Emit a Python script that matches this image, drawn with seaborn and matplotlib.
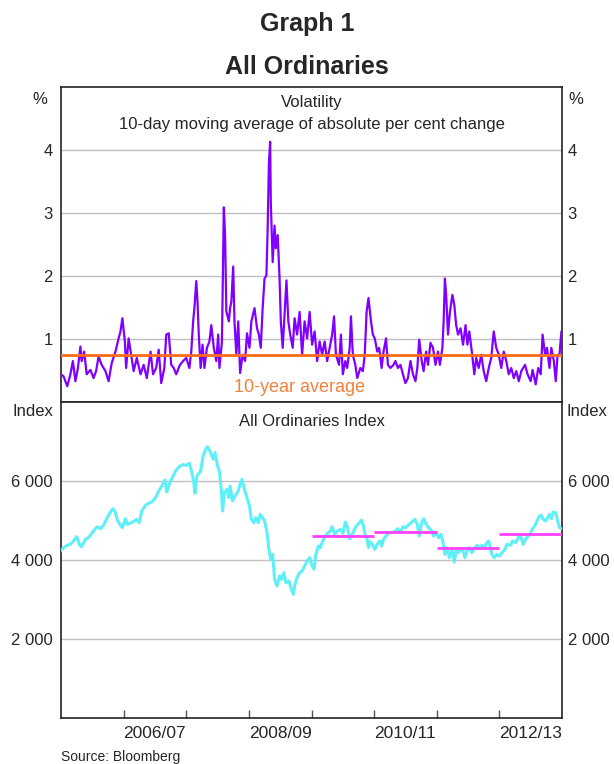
# Graph 1 - All Ordinaries: volatility and index level
import numpy as np
import pandas as pd
import matplotlib
matplotlib.use("Agg")
import matplotlib.pyplot as plt
from matplotlib.ticker import FuncFormatter
import seaborn as sns

# ======================================================
# DATA (x in decimal years)
# ======================================================

vol_t = [2005.49, 2005.54, 2005.60, 2005.65, 2005.69, 2005.73, 2005.77, 2005.81, 2005.83, 2005.87,
         2005.91, 2005.97, 2006.02, 2006.06, 2006.10, 2006.15, 2006.21, 2006.26, 2006.31, 2006.37,
         2006.42, 2006.45, 2006.48, 2006.52, 2006.54, 2006.58, 2006.62, 2006.66, 2006.71, 2006.77,
         2006.82, 2006.87, 2006.93, 2006.97, 2007.02, 2007.06, 2007.10, 2007.15, 2007.18, 2007.22,
         2007.26, 2007.30, 2007.34, 2007.40, 2007.45, 2007.50, 2007.55, 2007.58, 2007.61, 2007.63,
         2007.66, 2007.68, 2007.70, 2007.73, 2007.76, 2007.79, 2007.83, 2007.87, 2007.90, 2007.94,
         2007.98, 2008.01, 2008.03, 2008.07, 2008.10, 2008.12, 2008.14, 2008.18, 2008.20,
         2008.22, 2008.25, 2008.27, 2008.30, 2008.33, 2008.36, 2008.40, 2008.44, 2008.47, 2008.51,
         2008.54, 2008.59, 2008.63, 2008.66, 2008.69, 2008.72, 2008.75, 2008.78, 2008.80, 2008.82,
         2008.84, 2008.85, 2008.88, 2008.91, 2008.93, 2008.96, 2008.99, 2009.01, 2009.04, 2009.07,
         2009.10, 2009.13, 2009.16, 2009.20, 2009.23, 2009.27, 2009.31, 2009.35, 2009.39, 2009.43,
         2009.47, 2009.51, 2009.55, 2009.59, 2009.63, 2009.67, 2009.71, 2009.75, 2009.79, 2009.83,
         2009.86, 2009.89, 2009.94, 2009.97, 2010.00, 2010.04, 2010.07, 2010.11, 2010.13, 2010.16,
         2010.20, 2010.23, 2010.28, 2010.32, 2010.35, 2010.38, 2010.41, 2010.45, 2010.48, 2010.51,
         2010.55, 2010.58, 2010.62, 2010.65, 2010.69, 2010.72, 2010.76, 2010.81,
         2010.84, 2010.88, 2010.92, 2010.96, 2011.00, 2011.04, 2011.08, 2011.12, 2011.16, 2011.19,
         2011.22, 2011.26, 2011.29, 2011.33, 2011.36, 2011.40, 2011.44, 2011.48, 2011.52, 2011.55,
         2011.59, 2011.61, 2011.63, 2011.65, 2011.68, 2011.71, 2011.75, 2011.78, 2011.81, 2011.84,
         2011.88, 2011.92, 2011.96, 2011.99, 2012.02, 2012.06, 2012.10, 2012.13, 2012.17, 2012.21,
         2012.25, 2012.29, 2012.33, 2012.37, 2012.41, 2012.45, 2012.49, 2012.53, 2012.57, 2012.61,
         2012.65, 2012.69, 2012.73, 2012.77, 2012.81, 2012.85, 2012.91, 2012.95, 2013.00, 2013.03,
         2013.08, 2013.12, 2013.16, 2013.19, 2013.23, 2013.26, 2013.30, 2013.33, 2013.37, 2013.40,
         2013.43, 2013.46, 2013.49]

vol_pct = [0.44, 0.41, 0.25, 0.44, 0.65, 0.33, 0.54, 0.88, 0.65, 0.80,
           0.44, 0.51, 0.38, 0.49, 0.72, 0.59, 0.49, 0.33, 0.62, 0.80,
           1.01, 1.12, 1.33, 0.96, 0.54, 1.01, 0.75, 0.49, 0.70, 0.44,
           0.59, 0.38, 0.80, 0.44, 0.54, 0.83, 0.30, 0.54, 1.07, 1.09,
           0.59, 0.54, 0.44, 0.59, 0.65, 0.70, 0.54, 0.80, 1.28, 1.49,
           1.92, 1.59, 1.07, 0.54, 0.91, 0.54, 0.86, 0.96, 1.22, 0.86,
           0.65, 1.07, 0.54, 0.96, 3.09, 2.65, 1.44, 1.28, 1.49,
           1.59, 2.15, 1.28, 0.75, 1.28, 0.46, 0.75, 0.65, 1.09, 0.86,
           1.28, 1.49, 1.17, 1.07, 0.86, 1.49, 1.96, 2.01, 2.75, 3.80,
           4.13, 3.17, 2.22, 2.80, 2.44, 2.65, 1.96, 1.28, 0.86, 1.38,
           1.93, 1.28, 1.07, 0.86, 1.33, 1.07, 1.43, 0.75, 1.28, 1.01,
           1.43, 0.91, 1.12, 0.65, 0.96, 0.75, 0.96, 0.65, 0.86, 1.07,
           1.36, 0.75, 0.59, 1.07, 0.44, 0.65, 0.54, 0.86, 1.36, 0.75,
           0.59, 0.38, 0.54, 0.49, 0.75, 1.43, 1.65, 1.28, 1.07, 1.01,
           0.80, 0.86, 0.54, 0.80, 1.01, 0.59, 0.54, 0.59,
           0.65, 0.54, 0.59, 0.44, 0.30, 0.38, 0.65, 0.44, 0.33, 0.54,
           0.99, 0.65, 0.49, 0.80, 0.59, 0.94, 0.86, 0.59, 0.80, 0.59,
           0.86, 1.28, 1.96, 1.70, 1.07, 1.43, 1.70, 1.54, 1.22, 1.07,
           1.17, 0.91, 1.22, 0.91, 1.12, 0.80, 0.44, 0.70, 0.54, 0.75,
           0.49, 0.33, 0.54, 0.70, 1.12, 0.86, 0.75, 0.54, 0.80, 0.65,
           0.44, 0.54, 0.38, 0.49, 0.33, 0.49, 0.59, 0.44, 0.33, 0.51,
           0.28, 0.54, 0.44, 1.07, 0.75, 0.86, 0.54, 0.86, 0.65, 0.33,
           0.75, 0.75, 1.12]

vol_avg = 0.75  # 10-year average

idx_t = [2005.49, 2005.54, 2005.60, 2005.65, 2005.70, 2005.75, 2005.80, 2005.83, 2005.89, 2005.94,
         2005.99, 2006.05, 2006.08, 2006.13, 2006.18, 2006.23, 2006.29, 2006.33, 2006.37, 2006.40,
         2006.45, 2006.48, 2006.53, 2006.56, 2006.62, 2006.67, 2006.71, 2006.75, 2006.79, 2006.85,
         2006.90, 2006.95, 2007.01, 2007.06, 2007.11, 2007.16, 2007.19, 2007.24, 2007.29, 2007.34,
         2007.40, 2007.45, 2007.50, 2007.55, 2007.59, 2007.62, 2007.64, 2007.67, 2007.73, 2007.77,
         2007.81, 2007.84, 2007.89, 2007.93, 2007.96, 2008.00, 2008.03, 2008.06, 2008.08, 2008.11,
         2008.15, 2008.18, 2008.20,
         2008.24, 2008.28, 2008.33, 2008.36, 2008.39, 2008.43, 2008.47, 2008.51, 2008.54, 2008.58,
         2008.61, 2008.65, 2008.68, 2008.72, 2008.75, 2008.79, 2008.82, 2008.85, 2008.88, 2008.91,
         2008.95, 2008.99, 2009.02, 2009.06, 2009.09, 2009.14, 2009.17, 2009.21, 2009.23, 2009.27,
         2009.31, 2009.35, 2009.39, 2009.43, 2009.47, 2009.50, 2009.54, 2009.57, 2009.61, 2009.64,
         2009.68, 2009.72, 2009.77, 2009.80, 2009.83, 2009.87, 2009.91, 2009.96, 2010.00, 2010.04,
         2010.07, 2010.11, 2010.15, 2010.19, 2010.24, 2010.30, 2010.33, 2010.36, 2010.39, 2010.41,
         2010.44, 2010.48, 2010.51, 2010.55, 2010.59, 2010.62, 2010.65, 2010.71, 2010.76, 2010.81,
         2010.84, 2010.88, 2010.92, 2010.96, 2011.00, 2011.04, 2011.08, 2011.12, 2011.15, 2011.19,
         2011.22, 2011.26, 2011.29, 2011.33, 2011.37, 2011.41, 2011.45, 2011.49, 2011.53, 2011.57,
         2011.60, 2011.63, 2011.67, 2011.70, 2011.75, 2011.78, 2011.81, 2011.85, 2011.88, 2011.92,
         2011.95, 2011.99, 2012.02, 2012.06, 2012.11, 2012.14, 2012.18, 2012.22, 2012.27, 2012.30,
         2012.33, 2012.36, 2012.38, 2012.42, 2012.46, 2012.50, 2012.54, 2012.59, 2012.62, 2012.68,
         2012.71, 2012.76, 2012.80, 2012.84, 2012.88, 2012.92, 2012.96, 2013.00, 2013.03, 2013.07,
         2013.10, 2013.14, 2013.17, 2013.20, 2013.24, 2013.27, 2013.30, 2013.33, 2013.36, 2013.40,
         2013.43, 2013.46, 2013.49]

idx_level = [4228, 4312, 4371, 4397, 4481, 4591, 4371, 4338, 4523, 4565,
             4675, 4793, 4844, 4793, 4878, 5047, 5215, 5300, 5198, 5013,
             4878, 4819, 5047, 4903, 4945, 4987, 5030, 4945, 5241, 5384,
             5435, 5469, 5578, 5747, 5874, 6025, 5722, 5958, 6127, 6279,
             6380, 6414, 6397, 6448, 6211, 5975, 5688, 6127, 6253, 6633,
             6802, 6870, 6718, 6549, 6718, 6380, 6253, 5789, 5241, 5705,
             5789, 5578, 5874,
             5494, 5621, 5747, 5916, 6042, 5789, 5578, 5367, 5030, 4945,
             5072, 4945, 5156, 5072, 4987, 4692, 4270, 4017, 4143, 3510,
             3342, 3595, 3510, 3679, 3426, 3468, 3300, 3131, 3342, 3553,
             3679, 3721, 3848, 3975, 4059, 3890, 3764, 4143, 4354, 4312,
             4481, 4608, 4692, 4734, 4844, 4650, 4734, 4776, 4675, 4962,
             4861, 4540, 4650, 4793, 4903, 5013, 4861, 4608, 4523, 4312,
             4456, 4371, 4270, 4397, 4481, 4354, 4523, 4650, 4692, 4709,
             4734, 4793, 4692, 4844, 4819, 4878, 4928, 4987, 5030, 4903,
             4608, 4945, 5047, 4903, 4819, 4760, 4608, 4692, 4565, 4650,
             4439, 4143, 4270, 4059, 4270, 3949, 4228, 4186, 4287, 4228,
             4059, 4270, 4312, 4186, 4312, 4371, 4312, 4371, 4338, 4439,
             4481, 4312, 4143, 4059, 4143, 4101, 4186, 4270, 4397, 4371,
             4481, 4439, 4565, 4608, 4397, 4523, 4608, 4692, 4793, 4878,
             4987, 5114, 5131, 5030, 4987, 5072, 5156, 5047, 5215, 5198,
             4987, 4819, 4793]

# financial-year averages of the index
fy_start = [2009.5, 2010.5, 2011.5, 2012.5]
fy_end = [2010.5, 2011.5, 2012.5, 2013.5]
fy_avg = [4600, 4720, 4295, 4670]

fy_labels = ["2006/07", "2008/09", "2010/11", "2012/13"]

# ======================================================
# STYLE
# ======================================================

sns.set_theme(style="white")
plt.rcParams["font.family"] = ["Liberation Sans", "DejaVu Sans"]

PURPLE = "#8000ff"
ORANGE = "#ff6a1a"
ORANGE_TXT = "#f5803a"
CYAN = "#5ff0f7"
MAGENTA = "#ff40ff"
GRID = "#c0c0c0"

vol = pd.DataFrame({"t": vol_t, "pct": vol_pct})
idx = pd.DataFrame({"t": idx_t, "level": idx_level})

fig = plt.figure(figsize=(6.14, 7.64), dpi=100)
ax1 = fig.add_axes([61 / 614, (764 - 402) / 764, 501 / 614, 315 / 764])
ax2 = fig.add_axes([61 / 614, (764 - 718) / 764, 501 / 614, 316 / 764])

fmt_thou = FuncFormatter(lambda v, p: f"{int(v):,}".replace(",", " "))

# ======================================================
# TOP PANEL - VOLATILITY
# ======================================================

sns.lineplot(data=vol, x="t", y="pct", ax=ax1, color=PURPLE, lw=1.6, zorder=3)
ax1.axhline(vol_avg, color=ORANGE, lw=2, zorder=4)
ax1.set_ylim(0, 5)
ax1.set_yticks([1, 2, 3, 4])
ax1.text(0.5, 0.95, "Volatility", transform=ax1.transAxes, ha="center", va="center", fontsize=12)
ax1.text(0.5, 0.88, "10-day moving average of absolute per cent change",
         transform=ax1.transAxes, ha="center", va="center", fontsize=12)
ax1.text(0.477, 0.045, "10-year average", transform=ax1.transAxes, ha="center", va="center",
         fontsize=13, color=ORANGE_TXT)
ax1.tick_params(axis="x", bottom=False, labelbottom=False)

# ======================================================
# BOTTOM PANEL - INDEX
# ======================================================

sns.lineplot(data=idx, x="t", y="level", ax=ax2, color=CYAN, lw=2.2, zorder=3)
ax2.hlines(fy_avg, fy_start, fy_end, color=MAGENTA, lw=2, zorder=4)
ax2.set_ylim(0, 8000)
ax2.set_yticks([2000, 4000, 6000])
ax2.yaxis.set_major_formatter(fmt_thou)
ax2.text(0.5, 0.937, "All Ordinaries Index", transform=ax2.transAxes, ha="center", va="center",
         fontsize=12)

# year boundary ticks (inside) and financial-year labels between them
ax2.set_xticks([2006.5 + i for i in range(7)])
ax2.set_xticklabels([])
ax2.set_xticks([2007.0, 2009.0, 2011.0, 2013.0], minor=True)
ax2.set_xticklabels(fy_labels, minor=True)
ax2.tick_params(axis="x", which="major", direction="in", length=6, width=1, color="#555555",
                bottom=True)
ax2.tick_params(axis="x", which="minor", length=0, pad=6, labelsize=12.5, bottom=True)

# ======================================================
# COMMON AXIS FORMAT (right-hand labels on a twin axis)
# ======================================================

for ax in (ax1, ax2):
    ax.set_xlim(2005.5, 2013.5)
    ax.set_xlabel("")
    ax.set_ylabel("")
    ax.grid(axis="y", color=GRID, lw=1)
    ax.set_axisbelow(True)
    for s in ax.spines.values():
        s.set_color("#222222")
        s.set_linewidth(1.2)

    axr = ax.twinx()
    axr.set_ylim(ax.get_ylim())
    axr.set_yticks(ax.get_yticks())
    axr.yaxis.set_major_formatter(ax.yaxis.get_major_formatter())
    axr.grid(False)
    for s in axr.spines.values():
        s.set_visible(False)

    # twinx resets tick sides, so set them afterwards
    ax.tick_params(axis="y", length=0, left=False, right=False, labelleft=True,
                   labelright=False, labelsize=12, pad=6)
    axr.tick_params(axis="y", length=0, left=False, right=False, labelleft=False,
                    labelright=True, labelsize=12, pad=4)

# unit labels
ax1.text(-0.028, 0.96, "%", transform=ax1.transAxes, ha="right", va="center", fontsize=12)
ax1.text(1.013, 0.96, "%", transform=ax1.transAxes, ha="left", va="center", fontsize=12)
ax2.text(-0.016, 0.97, "Index", transform=ax2.transAxes, ha="right", va="center", fontsize=12)
ax2.text(1.008, 0.97, "Index", transform=ax2.transAxes, ha="left", va="center", fontsize=12)

# titles and source
fig.text(0.5, 0.969, "Graph 1", ha="center", va="center", fontsize=18, fontweight="bold")
fig.text(0.5, 0.912, "All Ordinaries", ha="center", va="center", fontsize=18, fontweight="bold")
fig.text(61 / 614, 1 - 757 / 764, "Source: Bloomberg", ha="left", va="center", fontsize=10)

fig.savefig("out.png", dpi=100)
plt.close(fig)
print("✔ Figura guardada en out.png")
